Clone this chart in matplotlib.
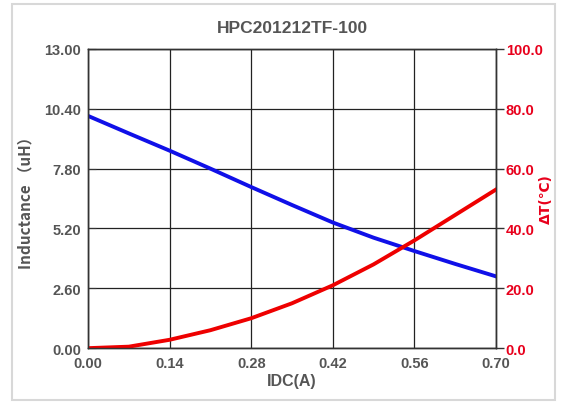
import matplotlib
matplotlib.use("Agg")
from matplotlib import pyplot as plt
from matplotlib.patches import Rectangle

# data
idc = [0.00, 0.07, 0.14, 0.21, 0.28, 0.35, 0.42, 0.49, 0.56, 0.63, 0.70]
inductance = [10.09, 9.33, 8.58, 7.80, 7.00, 6.22, 5.46, 4.80, 4.22, 3.66, 3.12]
delta_t = [0.0, 0.5, 2.8, 6.0, 10.0, 15.0, 21.0, 28.0, 36.0, 44.5, 53.0]

x_ticks = [0.00, 0.14, 0.28, 0.42, 0.56, 0.70]
l_ticks = [0.00, 2.60, 5.20, 7.80, 10.40, 13.00]
r_ticks = [0.0, 20.0, 40.0, 60.0, 80.0, 100.0]

plt.rcParams['font.family'] = ['Liberation Sans', 'DejaVu Sans']
gray = '#555555'
red = '#e8001c'

fig = plt.figure(figsize=(5.61, 4.06), dpi=100)
fig.patches.append(Rectangle((0.021, 0.012), 0.968, 0.975, transform=fig.transFigure,
                             fill=False, edgecolor='#d8d8d8', linewidth=1.5))
ax = fig.add_axes([0.157, 0.140, 0.727, 0.737])
ax2 = ax.twinx()

ax.plot(idc, inductance, color='#1010e8', linewidth=2.8)
ax2.plot(idc, delta_t, color='#ee0000', linewidth=2.8)

ax.set_xlim(0, 0.70)
ax.set_ylim(0, 13)
ax2.set_ylim(0, 100)
ax.set_xticks(x_ticks)
ax.set_xticklabels([f"{v:.2f}" for v in x_ticks])
ax.set_yticks(l_ticks)
ax.set_yticklabels([f"{v:.2f}" for v in l_ticks])
ax2.set_yticks(r_ticks)
ax2.set_yticklabels([f"{v:.1f}" for v in r_ticks])
ax.grid(True, color='#222222', linewidth=0.9)
ax.set_axisbelow(True)

for a in (ax, ax2):
    for s in a.spines.values():
        s.set_color('#333333')
        s.set_linewidth(1.0)

ax.tick_params(axis='both', colors='#333333', labelcolor=gray, labelsize=10.5, length=0, pad=6)
ax.tick_params(axis='y', length=6, direction='in', pad=5)
ax2.tick_params(axis='y', colors='#333333', labelcolor=red, labelsize=10.5, length=6, direction='out', width=1, pad=1)
for lab in ax.get_xticklabels() + ax.get_yticklabels():
    lab.set_fontweight('bold')
for lab in ax2.get_yticklabels():
    lab.set_fontweight('bold')

ax.set_xlabel("IDC(A)", color=gray, fontsize=11.5, fontweight='bold', labelpad=2)
ax.set_ylabel("Inductance （uH）", color=gray, fontsize=11, fontweight='bold',
              family=['Noto Sans CJK SC', 'DejaVu Sans'])
ax.yaxis.set_label_coords(-0.135, 0.5)
ax2.set_ylabel("ΔT(℃)", color=red, fontsize=10, fontweight='bold',
               family=['DejaVu Sans', 'Noto Sans CJK SC'])
ax2.yaxis.set_label_coords(1.105, 0.5)
ax.set_title("HPC201212TF-100", color=gray, fontsize=12.5, fontweight='bold', pad=12)

fig.savefig("out.png", dpi=100)
